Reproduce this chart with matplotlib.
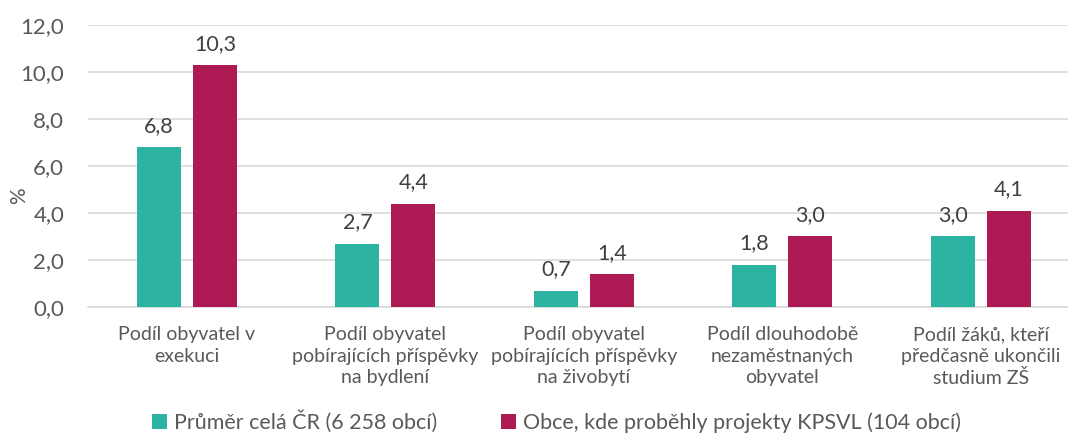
import matplotlib
matplotlib.use("Agg")
import matplotlib.pyplot as plt
import numpy as np

categories = [
    "Podíl obyvatel v\nexekuci",
    "Podíl obyvatel\npobírajících příspěvky\nna bydlení",
    "Podíl obyvatel\npobírajících příspěvky\nna živobytí",
    "Podíl dlouhodobě\nnezaměstnaných\nobyvatel",
    "Podíl žáků, kteří\npředčasně ukončili\nstudium ZŠ",
]
series_names = ["Průměr celá ČR (6 258 obcí)", "Obce, kde proběhly projekty KPSVL (104 obcí)"]
cr_values = [6.8, 2.7, 0.7, 1.8, 3.0]
kpsvl_values = [10.3, 4.4, 1.4, 3.0, 4.1]
yticks = [0, 2, 4, 6, 8, 10, 12]

plt.rcParams['font.family'] = ['Lato', 'DejaVu Sans']
txt = "#595959"
teal = "#2DB3A1"
mag = "#AD1A54"

fig = plt.figure(figsize=(10.68, 4.37), dpi=100)
ax = fig.add_axes([0.0822, 0.2975, 0.929, 0.6455])

x = np.arange(len(categories))
w = 0.222
off = 0.141
b1 = ax.bar(x - off, cr_values, w, color=teal, label=series_names[0], zorder=3)
b2 = ax.bar(x + off, kpsvl_values, w, color=mag, label=series_names[1], zorder=3)

for bars, vals in ((b1, cr_values), (b2, kpsvl_values)):
    for r, v in zip(bars, vals):
        ax.annotate(f"{v:.1f}".replace(".", ","), (r.get_x() + r.get_width() / 2, v),
                    xytext=(0, 8), textcoords="offset points", ha="center", va="bottom",
                    fontsize=15.5, color="#404040")

ax.set_xlim(-0.5, len(categories) - 0.5)
ax.set_ylim(0, 12)
ax.set_yticks(yticks)
ax.set_yticklabels([f"{t:.1f}".replace(".", ",") for t in yticks], fontsize=16, color=txt)
ax.set_xticks(x)
ax.set_xticklabels(categories, fontsize=14, color=txt, linespacing=1.3)
ax.tick_params(axis="both", length=0)
ax.tick_params(axis="x", pad=14)
ax.tick_params(axis="y", pad=17)
ax.grid(axis="y", color="#D9D9D9", linewidth=1.2, zorder=0)
for s in ["top", "right", "left"]:
    ax.spines[s].set_visible(False)
ax.spines["bottom"].set_color("#D9D9D9")
ax.spines["bottom"].set_linewidth(1.2)
fig.text(19 / 1068, 1 - 196 / 437, "%", rotation=90, ha="center", va="center",
         fontsize=15, color=txt)

fig.legend(handles=[b1, b2], loc="lower center", bbox_to_anchor=(0.521, -0.035), ncol=2,
           frameon=False, fontsize=15.5, handlelength=0.7, handleheight=0.7,
           handletextpad=0.3, columnspacing=3.0, labelcolor=txt)

fig.savefig("out.png", dpi=100)
